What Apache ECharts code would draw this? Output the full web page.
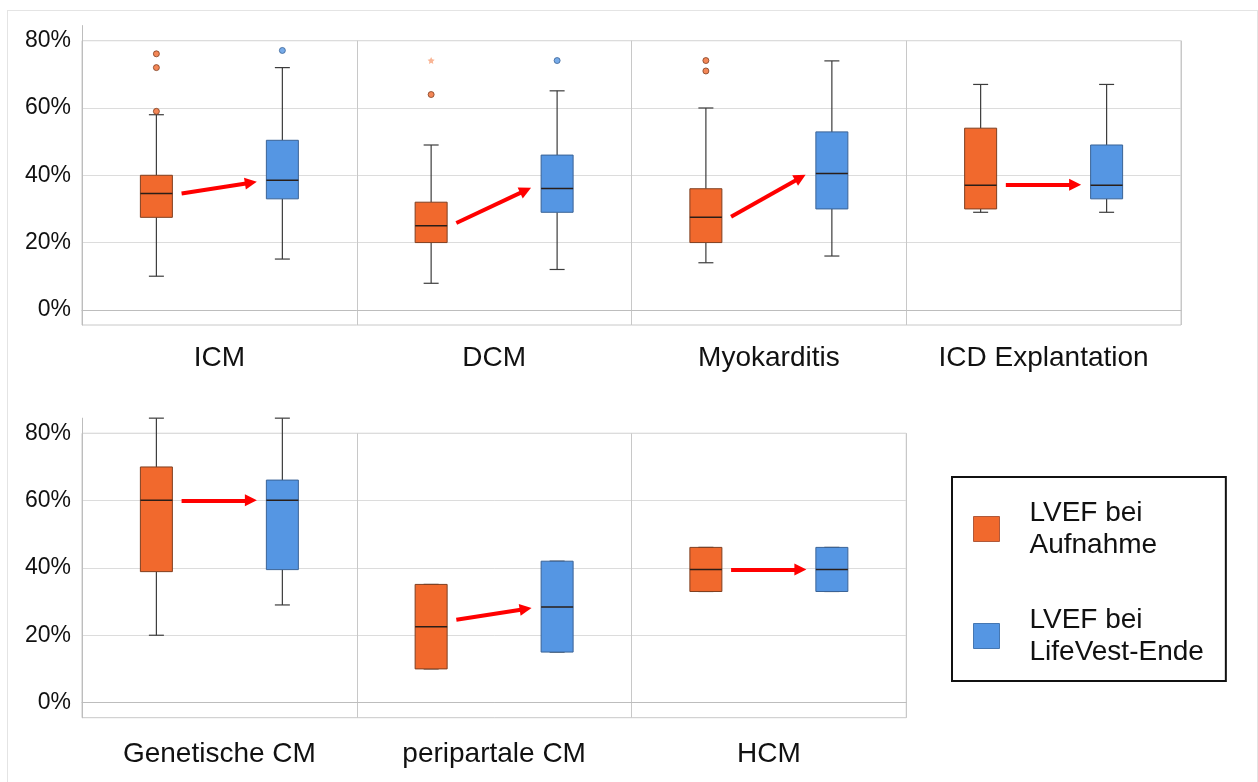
<!DOCTYPE html>
<html>
<head>
<meta charset="utf-8">
<script src="https://cdn.jsdelivr.net/npm/echarts@6/dist/echarts.min.js"></script>
<style>
  html, body { margin: 0; padding: 0; background: #fff; }
  #chart { width: 1258px; height: 782px; }
  .rahmen { position: absolute; left: 7px; top: 10px; width: 1249px; height: 800px; border: 1px solid #e4e4e4; pointer-events: none; }
</style>
</head>
<body>
<div id="chart"></div>
<div class="rahmen"></div>
<script>
// Kategorien (obere Reihe 4, untere Reihe 3)
const kategorien = ['ICM', 'DCM', 'Myokarditis', 'ICD Explantation', 'Genetische CM', 'peripartale CM', 'HCM']
const yTicks = [0, 20, 40, 60, 80]

// [min, Q1, Median, Q3, max] in %
const aufnahme = [
  [10, 27.5, 34.6, 40, 58],
  [7.9, 20, 25, 32, 49],
  [14, 20, 27.5, 36, 60],
  [29, 30, 37, 54, 67],
  [20, 38.9, 60.1, 70, 84.5],
  [10, 10, 22.5, 35.1, 35.1],
  [33, 33, 39.5, 46.1, 46.1]
]
const lifeVestEnde = [
  [15.1, 33, 38.5, 50.4, 72],
  [12, 29, 36.1, 46, 65.1],
  [16, 30, 40.5, 52.9, 74],
  [29, 33, 37, 49, 67],
  [29, 39.5, 60.1, 66.1, 84.5],
  [15, 15, 28.4, 42, 42],
  [33, 33, 39.5, 46.1, 46.1]
]
// Ausreißer (Kreise) und Extremwerte (Sterne)
const ausreisserAufnahme = [[76.1, 72, 59], [64], [74.1, 71], [], [], [], []]
const extremAufnahme = [[], [74.1], [], [], [], [], []]
const ausreisserEnde = [[77.1], [74.1], [], [], [], [], []]
// rote Pfeile: Start- und Endhöhe in %
const pfeilVon = [34.6, 25.8, 27.7, 37.2, 60.1, 24.6, 39.5]
const pfeilBis = [37.8, 35.5, 39.3, 37.2, 60.1, 27.8, 39.5]

const FONT = '"Liberation Sans", Arial, sans-serif'
const ORANGE = '#f1692d', ORANGE_RAND = '#7f3f20'
const BLAU = '#5596e3', BLAU_RAND = '#3a6396'
const Y_MIN = -4.5, Y_MAX = 84.5
const LINKS = 82, PANEL_B = 274.75, EINZUG = 11.4
const zeilen = [
  { von: 0, bis: 4, top80: 40.7, unten: 325, labelAbstand: 19 },
  { von: 4, bis: 7, top80: 433.3, unten: 717.7, labelAbstand: 23 }
]

function boxZeichner(fuell, rand) {
  return function (params, api) {
    const x = api.value(0)
    const p = k => api.coord([x, api.value(k)])
    const min = p(1), q1 = p(2), med = p(3), q3 = p(4), max = p(5)
    const cx = min[0]
    const hb = 16, hk = 7.5
    const whisker = { stroke: '#3c3c3c', lineWidth: 1.2 }
    return {
      type: 'group',
      children: [
        { type: 'line', shape: { x1: cx, y1: max[1], x2: cx, y2: q3[1] }, style: whisker },
        { type: 'line', shape: { x1: cx, y1: q1[1], x2: cx, y2: min[1] }, style: whisker },
        { type: 'line', shape: { x1: cx - hk, y1: max[1], x2: cx + hk, y2: max[1] }, style: whisker },
        { type: 'line', shape: { x1: cx - hk, y1: min[1], x2: cx + hk, y2: min[1] }, style: whisker },
        { type: 'rect', shape: { x: cx - hb, y: q3[1], width: 2 * hb, height: q1[1] - q3[1] }, style: { fill: fuell, stroke: rand, lineWidth: 1 } },
        { type: 'line', shape: { x1: cx - hb, y1: med[1], x2: cx + hb, y2: med[1] }, style: { stroke: '#2a1e18', lineWidth: 1.5 } }
      ]
    }
  }
}

const stern = 'path://M0,-10 L2.9,-4 9.5,-3.1 4.7,1.5 5.9,8.1 0,5 -5.9,8.1 -4.7,1.5 -9.5,-3.1 -2.9,-4Z'

const grid = [], xAxis = [], yAxis = [], series = []

// Rahmen-Grids je Reihe (Achsenbeschriftung, Gitterlinien, Trennlinien)
zeilen.forEach(z => {
  grid.push({
    left: LINKS, top: z.top80, width: PANEL_B * (z.bis - z.von), height: z.unten - z.top80,
    show: true, borderColor: '#c8c8c8', borderWidth: 1, outerBoundsMode: 'none'
  })
  const gi = grid.length - 1
  xAxis.push({
    gridIndex: gi, type: 'category', data: kategorien.slice(z.von, z.bis),
    axisLine: { show: true, lineStyle: { color: '#bdbdbd' } },
    axisTick: { show: false },
    axisLabel: { fontFamily: FONT, fontSize: 28, lineHeight: 28, color: '#111', margin: z.labelAbstand, interval: 0 },
    splitLine: { show: true, interval: 0, lineStyle: { color: '#c8c8c8' } }
  })
  yAxis.push({
    gridIndex: gi, type: 'value', min: Y_MIN, max: 80,
    axisLine: { show: false },
    axisTick: { show: false, customValues: yTicks },
    axisLabel: { customValues: yTicks, formatter: '{value}%', fontFamily: FONT, fontSize: 23, color: '#111', margin: 11 },
    splitLine: { show: true, lineStyle: { color: '#dcdcdc' } }
  })
})

// ein Grid je Panel für Boxen, Ausreißer und Pfeile
zeilen.forEach(z => {
  const pxProEinheit = (z.unten - z.top80) / (80 - Y_MIN)
  const boxTop = z.top80 - (Y_MAX - 80) * pxProEinheit
  for (let i = z.von; i < z.bis; i++) {
    const spalte = i - z.von
    grid.push({
      left: LINKS + spalte * PANEL_B + EINZUG, top: boxTop,
      width: PANEL_B - 2 * EINZUG, height: z.unten - boxTop, outerBoundsMode: 'none'
    })
    const gi = grid.length - 1
    xAxis.push({ gridIndex: gi, type: 'value', min: -0.5, max: 1.5, show: false })
    yAxis.push({
      gridIndex: gi, type: 'value', min: Y_MIN, max: Y_MAX,
      show: spalte === 0, offset: EINZUG,
      axisLine: { show: true, onZero: false, lineStyle: { color: '#bdbdbd' } },
      axisTick: { show: false }, axisLabel: { show: false }, splitLine: { show: false }
    })
    const ax = { xAxisIndex: gi, yAxisIndex: gi }
    series.push({
      type: 'custom', name: 'LVEF bei Aufnahme', ...ax, z: 3,
      data: [[0, ...aufnahme[i]]], encode: { x: 0, y: [1, 2, 3, 4, 5] },
      itemStyle: { color: ORANGE, borderColor: ORANGE_RAND },
      renderItem: boxZeichner(ORANGE, ORANGE_RAND)
    })
    series.push({
      type: 'custom', name: 'LVEF bei LifeVest-Ende', ...ax, z: 3,
      data: [[1, ...lifeVestEnde[i]]], encode: { x: 0, y: [1, 2, 3, 4, 5] },
      itemStyle: { color: BLAU, borderColor: BLAU_RAND },
      renderItem: boxZeichner(BLAU, BLAU_RAND)
    })
    series.push({
      type: 'scatter', ...ax, z: 5, symbol: 'circle', symbolSize: 6,
      data: ausreisserAufnahme[i].map(v => [0, v]),
      itemStyle: { color: ORANGE, borderColor: ORANGE_RAND, borderWidth: 1 }
    })
    series.push({
      type: 'scatter', ...ax, z: 5, symbol: stern, symbolSize: 7,
      data: extremAufnahme[i].map(v => [0, v]),
      itemStyle: { color: '#f7a37a' }
    })
    series.push({
      type: 'scatter', ...ax, z: 5, symbol: 'circle', symbolSize: 6,
      data: ausreisserEnde[i].map(v => [1, v]),
      itemStyle: { color: BLAU, borderColor: BLAU_RAND, borderWidth: 1 }
    })
    series.push({
      type: 'lines', coordinateSystem: 'cartesian2d', ...ax, z: 4,
      symbol: ['none', 'triangle'], symbolSize: [13, 12],
      lineStyle: { color: '#ff0000', width: 4, opacity: 1 },
      data: [{ coords: [[0.2, pfeilVon[i]], [0.75, pfeilBis[i]]] }]
    })
  }
})

const chart = echarts.init(document.getElementById('chart'))
chart.setOption({
  animation: false,
  backgroundColor: '#fff',
  textStyle: { fontFamily: FONT },
  legend: {
    orient: 'vertical', left: 952, top: 477,
    data: [
      { name: 'LVEF bei Aufnahme', itemStyle: { color: ORANGE, borderColor: '#b0593a', borderWidth: 1 } },
      { name: 'LVEF bei LifeVest-Ende', itemStyle: { color: BLAU, borderColor: '#4577b2', borderWidth: 1 } }
    ],
    icon: 'rect', itemWidth: 26, itemHeight: 25, itemGap: 43,
    padding: [20, 22, 13, 21], borderColor: '#111', borderWidth: 2,
    selectedMode: false,
    formatter: name => name.replace('bei ', 'bei\n'),
    textStyle: { fontFamily: FONT, fontSize: 28, lineHeight: 32, color: '#111', padding: [0, 0, 0, 25] }
  },
  grid, xAxis, yAxis, series
})
</script>
</body>
</html>
